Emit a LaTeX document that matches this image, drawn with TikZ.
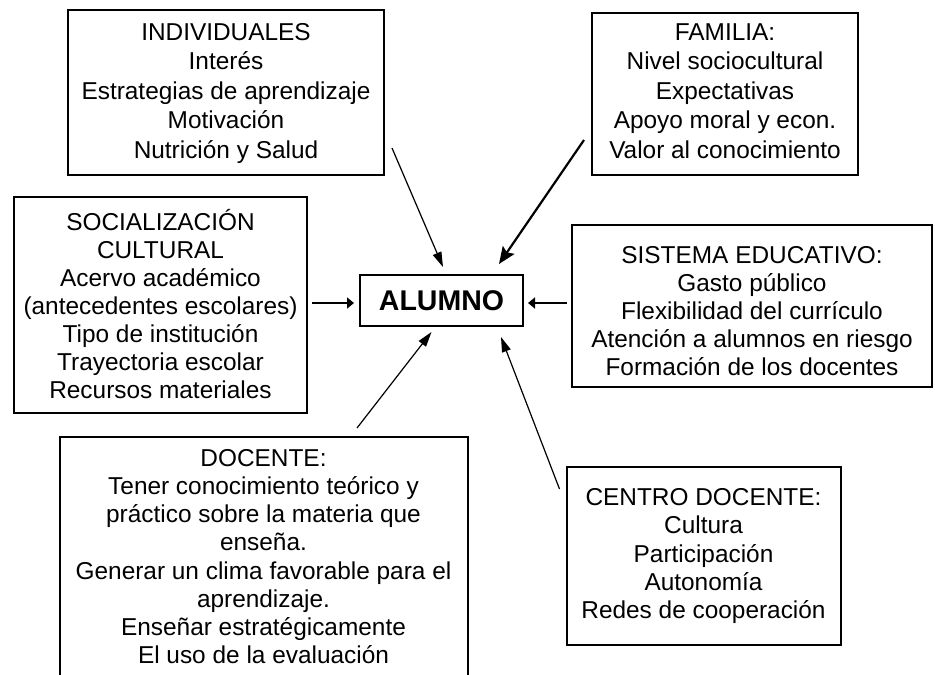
\documentclass[tikz,border=0pt]{standalone}
\usepackage{fontspec}
\setmainfont{Liberation Sans}
\usetikzlibrary{arrows.meta}
\newcommand\firstln[1]{\rule{0pt}{#1pt}}
\newcommand\lastln[1]{\rule[-#1pt]{0pt}{#1pt}}
\begin{document}
\begin{tikzpicture}[x=1pt,y={(0pt,-1pt)},
  box/.style={draw, line width=2pt, inner sep=0pt, align=center},
  thinarr/.style={line width=1.2pt, -{Triangle[length=15pt,width=9pt]}},
  famarr/.style={line width=2.2pt, -{Stealth[length=17pt,width=14pt,inset=3pt]}},
  harr/.style={line width=1.7pt, -{Triangle[length=7pt,width=11pt]}}]
\useasboundingbox (0,0) rectangle (935,675);

\node[box, minimum width=316pt, minimum height=165pt, font=\fontsize{24.4}{29.5}\selectfont] (ind) at (226,92.5)
  {\firstln{24}INDIVIDUALES\\Interés\\Estrategias de aprendizaje\\Motivación\\Nutrición y Salud\lastln{11}};

\node[box, minimum width=266pt, minimum height=162pt, font=\fontsize{24.4}{29.5}\selectfont] (fam) at (725,94)
  {\firstln{24}FAMILIA:\\Nivel sociocultural\\Expectativas\\Apoyo moral y econ.\\Valor al conocimiento\lastln{14}};

\node[box, minimum width=293pt, minimum height=216pt, font=\fontsize{24.4}{28}\selectfont] (soc) at (160.5,304.5)
  {\firstln{24}SOCIALIZACIÓN\\CULTURAL\\Acervo académico\\(antecedentes escolares)\\Tipo de institución\\Trayectoria escolar\\Recursos materiales\lastln{4}};

\node[box, minimum width=163pt, minimum height=51pt, font=\fontsize{28.5}{32}\selectfont\bfseries] (alu) at (441.5,300.5) {ALUMNO};

\node[box, minimum width=360pt, minimum height=162pt, font=\fontsize{24.4}{28}\selectfont] (sis) at (752,305.5)
  {\firstln{30}SISTEMA EDUCATIVO:\\Gasto público\\Flexibilidad del currículo\\Atención a alumnos en riesgo\\Formación de los docentes\lastln{2}};

\node[box, minimum width=408pt, minimum height=242pt, font=\fontsize{24.4}{28.1}\selectfont] (doc) at (263.5,558)
  {\firstln{24}DOCENTE:\\Tener conocimiento teórico y\\práctico sobre la materia que\\enseña.\\Generar un clima favorable para el\\aprendizaje.\\Enseñar estratégicamente\\El uso de la evaluación\lastln{10}};

\node[box, minimum width=274pt, minimum height=178pt, font=\fontsize{24.4}{28.3}\selectfont] (cen) at (703.5,555.5)
  {\firstln{24}CENTRO DOCENTE:\\Cultura\\Participación\\Autonomía\\Redes de cooperación\lastln{10.8}};

\coordinate (s1) at ([shift={(7,-28)}]ind.south east);
\coordinate (s2) at ([shift={(-7,-36)}]fam.south west);
\coordinate (s3) at ([shift={(4,-1.5)}]soc.east);
\coordinate (s4) at ([shift={(-4,-2.5)}]sis.west);
\coordinate (s5) at ([shift={(-111.5,-8)}]doc.north east);
\coordinate (s6) at ([shift={(-6,23.5)}]cen.north west);

\draw[thinarr] (s1) -- ([shift={(1.5,-7)}]alu.north);
\draw[famarr] (s2) -- ([shift={(-25,-10)}]alu.north east);
\draw[harr] (s3) -- ([shift={(-5,2.5)}]alu.west);
\draw[harr] (s4) -- ([shift={(4,2.5)}]alu.east);
\draw[thinarr] (s5) -- ([shift={(-10,5)}]alu.south);
\draw[thinarr] (s6) -- ([shift={(-23,10)}]alu.south east);
\end{tikzpicture}
\end{document}
